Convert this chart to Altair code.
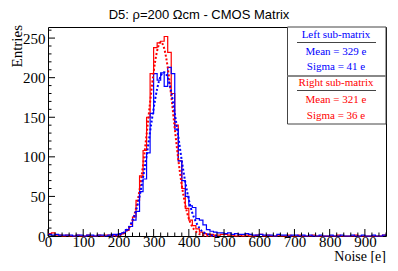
import altair as alt
import pandas as pd

# ---------------- data ----------------
BIN_EDGES = list(range(0, 960, 10))          # lower edges of the 10 e bins
X_END = 960

blue_counts = [
    2, 1, 2, 1, 1, 1, 1, 0, 1, 1, 0, 1, 1, 0, 1, 1, 0, 1, 2, 2,          # 0-190
    3, 4, 8, 12, 20, 31, 56, 72, 105, 155,                              # 200-290
    205, 197, 206, 189, 213, 205, 135, 95, 70, 50,                      # 300-390
    38, 36, 22, 20, 14, 8, 6, 5, 4, 4,                                  # 400-490
    3, 4, 2, 3, 2, 2, 3, 2, 1, 1,                                       # 500-590
    2, 1, 1, 1, 0, 2, 1, 1, 0, 1,                                       # 600-690
    1, 0, 1, 0, 1, 0, 0, 1, 0, 0,                                       # 700-790
    1, 0, 0, 1, 0, 0, 1, 0, 0, 1,                                       # 800-890
    0, 0, 1, 0, 0, 1,                                                   # 900-950
]
red_counts = [
    3, 4, 1, 1, 0, 1, 0, 0, 1, 0, 0, 1, 0, 0, 1, 0, 1, 1, 1, 1,          # 0-190
    2, 4, 7, 12, 24, 45, 76, 108, 150, 205,                             # 200-290
    238, 244, 246, 252, 232, 180, 140, 95, 60, 35,                      # 300-390
    20, 13, 9, 5, 3, 2, 2, 1, 1, 2,                                     # 400-490
    2, 1, 1, 0, 1, 0, 1, 0, 0, 1,                                       # 500-590
    2, 0, 1, 0, 0, 1, 0, 0, 1, 0,                                       # 600-690
    0, 1, 0, 0, 0, 1, 0, 0, 0, 0,                                       # 700-790
    0, 0, 1, 0, 0, 0, 0, 1, 0, 0,                                       # 800-890
    0, 0, 0, 0, 0, 1,                                                   # 900-950
]

fit_x = list(range(180, 490, 10))
blue_fit = [0.3, 0.7, 1.5, 3, 6, 11, 20, 32, 50, 74, 101, 132, 161, 186, 202, 207,
            200, 182, 155, 126, 95, 68, 46, 29, 18, 10, 5, 3, 1.3, 0.5, 0.2]
red_fit = [0.1, 0.3, 0.9, 2, 5, 10, 19.5, 35, 58, 90, 128, 169, 207, 234, 245, 237,
           213, 177, 136, 97, 64, 39, 22, 11.5, 5.6, 2.5, 1, 0.4, 0.1, 0, 0]

x_major = list(range(0, 1000, 100))[:10]
x_minor = [v for v in range(0, X_END + 1, 20) if v % 100 != 0]
y_major = [0, 50, 100, 150, 200, 250]
y_minor = [v for v in range(0, 261, 10) if v % 50 != 0]

title_text = "D5: ρ=200 Ωcm - CMOS Matrix"
left_lines = ["Left sub-matrix", "Mean = 329 e", "Sigma = 41 e"]
right_lines = ["Right sub-matrix", "Mean = 321 e", "Sigma = 36 e"]

# ---------------- layout ----------------
W, H = 338, 209
SERIF = "Liberation Serif"
BLUE, RED = "#0000ff", "#ff0000"

xs = alt.Scale(domain=[0, X_END], nice=False, zero=False)
ys = alt.Scale(domain=[0, 264], nice=False, zero=False)

x_axis = alt.Axis(values=x_major, labelFont=SERIF, labelFontSize=15, labelColor="black",
                  ticks=False, tickSize=0, domain=False, grid=False, labelPadding=5.5,
                  labelBaseline="middle", labelFlush=False, labelOverlap=False, title=None)
y_axis = alt.Axis(values=y_major, labelFont=SERIF, labelFontSize=15, labelColor="black",
                  ticks=False, tickSize=0, domain=False, grid=False, labelPadding=3,
                  labelBaseline="middle", labelFlush=False, labelOverlap=False, title=None)

X = alt.X("x:Q", scale=xs, axis=x_axis)
Y = alt.Y("y:Q", scale=ys, axis=y_axis)

def hist_df(counts):
    return pd.DataFrame({"x": BIN_EDGES + [X_END], "y": counts + [counts[-1]]})

red_hist = alt.Chart(hist_df(red_counts)).mark_line(
    interpolate="step-after", color=RED, strokeWidth=1.2).encode(x=X, y=Y)
blue_hist = alt.Chart(hist_df(blue_counts)).mark_line(
    interpolate="step-after", color=BLUE, strokeWidth=1.2).encode(x=X, y=Y)

red_fit_l = alt.Chart(pd.DataFrame({"x": fit_x, "y": red_fit})).mark_line(
    interpolate="monotone", color=RED, strokeWidth=2, strokeDash=[2, 2]).encode(x=X, y=Y)
blue_fit_l = alt.Chart(pd.DataFrame({"x": fit_x, "y": blue_fit})).mark_line(
    interpolate="monotone", color=BLUE, strokeWidth=2, strokeDash=[2, 2]).encode(x=X, y=Y)

# inward ticks
def xticks(vals, length):
    return alt.Chart(pd.DataFrame({"x": vals})).mark_rule(color="black", strokeWidth=1).encode(
        x=X, y=alt.value(H), y2=alt.value(H - length))

def yticks(vals, length):
    return alt.Chart(pd.DataFrame({"y": vals})).mark_rule(color="black", strokeWidth=1).encode(
        y=Y, x=alt.value(0), x2=alt.value(length))

one = pd.DataFrame({"a": [0]})

def txt(text, x, y, color="black", size=11, font=SERIF, align="center", angle=0):
    return alt.Chart(one).mark_text(font=font, fontSize=size, color=color, align=align,
                                    baseline="middle", angle=angle).encode(
        x=alt.value(x), y=alt.value(y), text=alt.value(text))

def hline(x1, x2, y, color="#444", width=1):
    return alt.Chart(one).mark_rule(color=color, strokeWidth=width).encode(
        x=alt.value(x1), x2=alt.value(x2), y=alt.value(y))

box = alt.Chart(one).mark_rect(fill="white", stroke="#444", strokeWidth=1).encode(
    x=alt.value(239.5), x2=alt.value(W), y=alt.value(0), y2=alt.value(97))

layers = [
    red_hist, blue_hist, red_fit_l, blue_fit_l,
    xticks(x_major, 7), xticks(x_minor, 3.5),
    yticks(y_major, 7), yticks(y_minor, 3.5),
    box,
    hline(239.5, W, 49, color="#888", width=2),
    hline(249, 328, 15.5), hline(249, 328, 63.5),
    txt(left_lines[0], 288, 8, BLUE), txt(left_lines[1], 288, 25, BLUE), txt(left_lines[2], 288, 40, BLUE),
    txt(right_lines[0], 288, 56, RED), txt(right_lines[1], 288, 73, RED), txt(right_lines[2], 288, 89, RED),
    txt(title_text, 151, -12, size=13, font="Liberation Sans"),
    txt("Noise [e]", W, 229.5, size=14, align="right"),
    txt("Entries", -31, -2, size=15, align="right", angle=270),
]

chart = alt.layer(*layers).properties(
    width=W, height=H,
    padding={"left": 40, "top": 19, "right": 4, "bottom": 27},
    autosize=alt.AutoSizeParams(type="none"),
    background="white",
).configure_view(stroke="black", strokeWidth=1)

chart.save("out.html", embed_options={"renderer": "svg", "actions": False})
